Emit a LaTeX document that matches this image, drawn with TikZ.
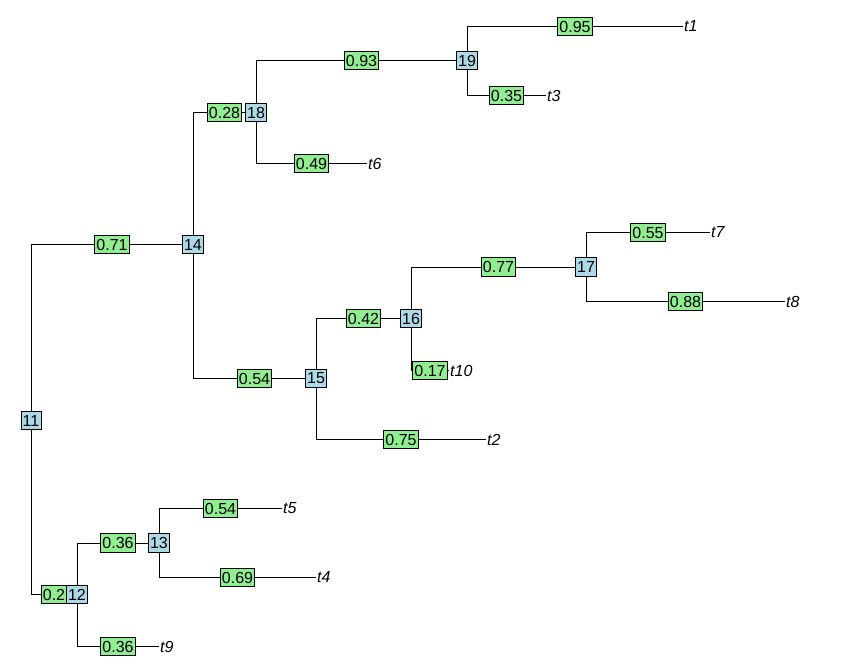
\documentclass[tikz,border=0pt]{standalone}
\usepackage{fontspec}
\setmainfont{Liberation Sans}
\definecolor{lblue}{HTML}{ADD8E6}
\definecolor{lgreen}{HTML}{90EE90}
\tikzset{
  edge/.style={line width=0.8pt, black},
  nodebox/.style={draw=black, line width=0.8pt, fill=lblue, inner xsep=1.7pt, inner ysep=0pt, minimum height=18.3pt, font=\fontsize{16}{18}\selectfont},
  edgebox/.style={draw=black, line width=0.8pt, fill=lgreen, inner xsep=1.7pt, inner ysep=0pt, minimum height=18.3pt, font=\fontsize{16}{18}\selectfont},
  tiplab/.style={anchor=west, inner xsep=1pt, inner ysep=0pt, font=\fontsize{16}{18}\selectfont\itshape}
}
\begin{document}
\begin{tikzpicture}[x=1pt,y=-1pt]
\path[use as bounding box] (0,0) rectangle (862,671);
% internal nodes
\coordinate (p11) at (31,420.5);
\coordinate (p14) at (193,244.5);
\coordinate (p18) at (256,112.5);
\coordinate (p19) at (467,60.5);
\coordinate (p15) at (316,378.5);
\coordinate (p16) at (411,318.5);
\coordinate (p17) at (586,267);
\coordinate (p12) at (77,594.5);
\coordinate (p13) at (159,543);
% tips
\coordinate (t1) at (683,26.5);
\coordinate (t3) at (546,95.5);
\coordinate (t6) at (367,163.5);
\coordinate (t7) at (710,232.5);
\coordinate (t8) at (785,301.5);
\coordinate (t10) at (449,370.5);
\coordinate (t2) at (486,439.5);
\coordinate (t5) at (282,508.5);
\coordinate (t4) at (316,577.5);
\coordinate (t9) at (159,646.5);
% edges with edge labels
\draw[edge] (p11) |- (p14) node[edgebox,pos=0.75] (e1) {0.71};
\draw[edge] (p14) |- (p18) node[edgebox,pos=0.75] (e2) {0.28};
\draw[edge] (p18) |- (p19) node[edgebox,pos=0.75] (e3) {0.93};
\draw[edge] (p19) |- (t1) node[edgebox,pos=0.75] (e4) {0.95};
\draw[edge] (p19) |- (t3) node[edgebox,pos=0.75] (e5) {0.35};
\draw[edge] (p18) |- (t6) node[edgebox,pos=0.75] (e6) {0.49};
\draw[edge] (p14) |- (p15) node[edgebox,pos=0.75] (e7) {0.54};
\draw[edge] (p15) |- (p16) node[edgebox,pos=0.75] (e8) {0.42};
\draw[edge] (p16) |- (p17) node[edgebox,pos=0.75] (e9) {0.77};
\draw[edge] (p17) |- (t7) node[edgebox,pos=0.75] (e10) {0.55};
\draw[edge] (p17) |- (t8) node[edgebox,pos=0.75] (e11) {0.88};
\draw[edge] (p16) |- (t10) node[edgebox,pos=0.75] (e12) {0.17};
\draw[edge] (p15) |- (t2) node[edgebox,pos=0.75] (e13) {0.75};
\draw[edge] (p11) |- (p12) node[edgebox,pos=0.75] (e14) {0.2};
\draw[edge] (p12) |- (p13) node[edgebox,pos=0.75] (e15) {0.36};
\draw[edge] (p13) |- (t5) node[edgebox,pos=0.75] (e16) {0.54};
\draw[edge] (p13) |- (t4) node[edgebox,pos=0.75] (e17) {0.69};
\draw[edge] (p12) |- (t9) node[edgebox,pos=0.75] (e18) {0.36};
% node labels
\node[nodebox] (n11) at (p11) {11};
\node[nodebox] (n12) at (p12) {12};
\node[nodebox] (n13) at (p13) {13};
\node[nodebox] (n14) at (p14) {14};
\node[nodebox] (n15) at (p15) {15};
\node[nodebox] (n16) at (p16) {16};
\node[nodebox] (n17) at (p17) {17};
\node[nodebox] (n18) at (p18) {18};
\node[nodebox] (n19) at (p19) {19};
% tip labels
\node[tiplab] (l1) at (t1) {t1};
\node[tiplab] (l3) at (t3) {t3};
\node[tiplab] (l6) at (t6) {t6};
\node[tiplab] (l7) at (t7) {t7};
\node[tiplab] (l8) at (t8) {t8};
\node[tiplab] (l10) at (t10) {t10};
\node[tiplab] (l2) at (t2) {t2};
\node[tiplab] (l5) at (t5) {t5};
\node[tiplab] (l4) at (t4) {t4};
\node[tiplab] (l9) at (t9) {t9};
\end{tikzpicture}
\end{document}
